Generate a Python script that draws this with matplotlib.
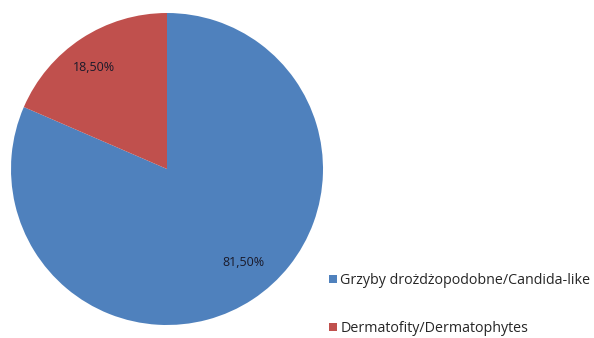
import matplotlib
matplotlib.use("Agg")
import matplotlib.pyplot as plt
from matplotlib.patches import Patch

categories = ["Grzyby drożdżopodobne/Candida-like", "Dermatofity/Dermatophytes"]
shares = [81.5, 18.5]
colors = ["#4F81BD", "#C0504D"]

W, H = 594, 338
fig = plt.figure(figsize=(W / 100, H / 100), dpi=100)
fig.patch.set_facecolor("white")

cx, cy, r = 167, 169, 156
ax = fig.add_axes([(cx - r) / W, (H - cy - r) / H, 2 * r / W, 2 * r / H])
wedges, texts, autotexts = ax.pie(
    shares,
    colors=colors,
    startangle=90,
    counterclock=False,
    autopct=lambda p: f"{p:.2f}%".replace(".", ","),
    pctdistance=0.78,
    wedgeprops=dict(linewidth=0),
    textprops=dict(fontsize=9, color="#1a1a2a", family="Open Sans"),
)
# nudge the percentage labels toward their usual spots
autotexts[0].set_position((0.49, -0.60))
autotexts[1].set_position((-0.47, 0.65))
ax.set_xlim(-1, 1)
ax.set_ylim(-1, 1)
ax.set_aspect("equal")
ax.axis("off")

handles = [Patch(facecolor=c, edgecolor="none") for c in colors]
fig.legend(
    handles, categories,
    loc="upper left",
    bbox_to_anchor=(329 / W, 1 - 273 / H),
    frameon=False,
    prop=dict(family="Open Sans", size=10.3),
    handlelength=0.55, handleheight=0.55, handletextpad=0.25,
    labelspacing=2.3, borderaxespad=0, borderpad=0,
    labelcolor="#262626",
)

fig.savefig("out.png", dpi=100, facecolor="white")
